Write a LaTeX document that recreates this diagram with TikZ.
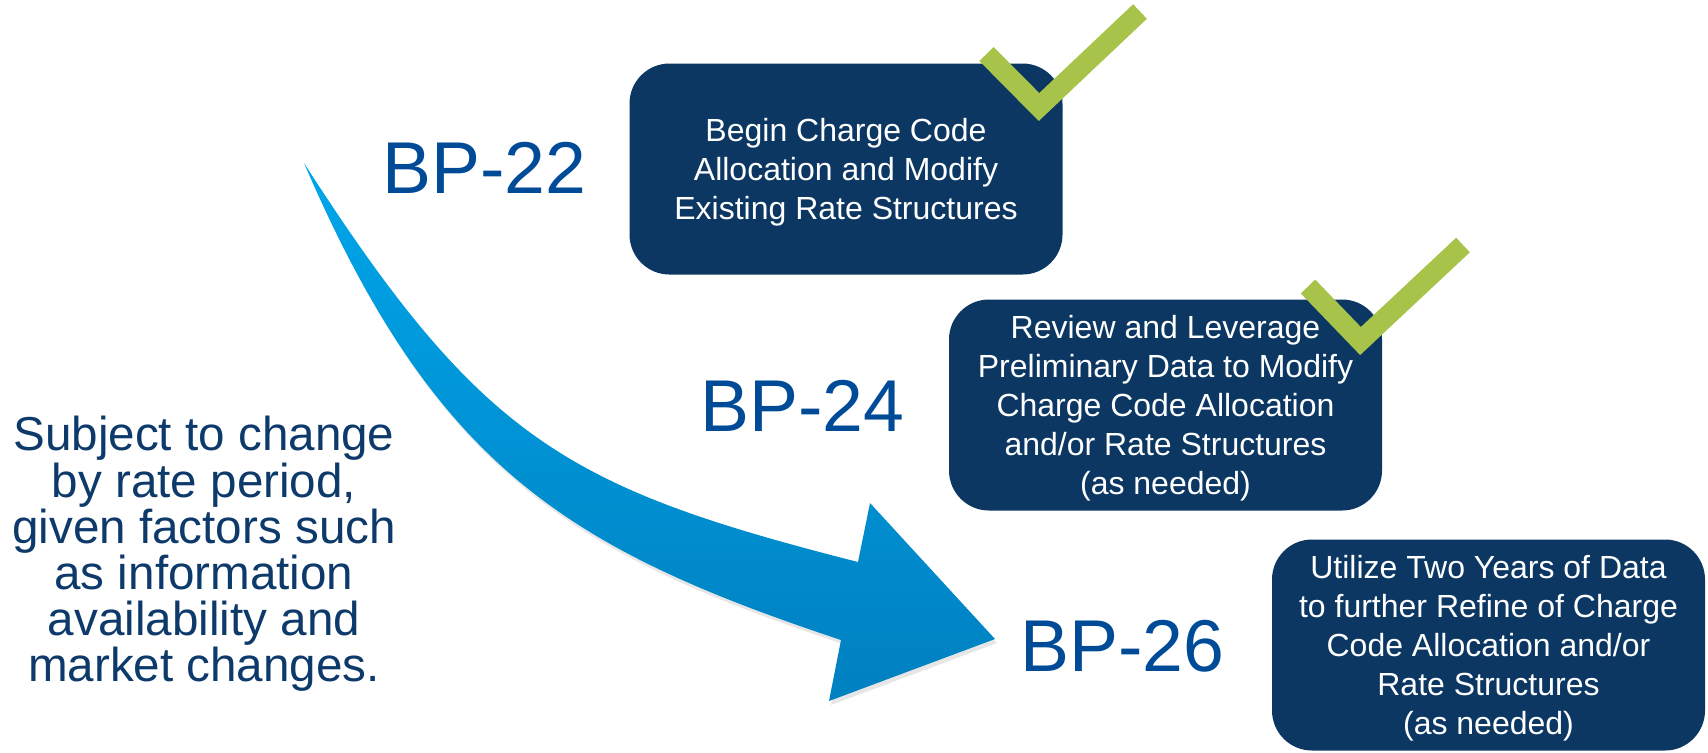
\documentclass[tikz,border=0pt]{standalone}
\usepackage{fontspec}
\setmainfont{Liberation Sans}
\usetikzlibrary{shadows}
\definecolor{boxblue}{RGB}{11,55,98}
\definecolor{bpblue}{RGB}{0,75,151}
\definecolor{noteblue}{RGB}{13,58,106}
\definecolor{checkgreen}{RGB}{167,195,74}
\definecolor{arrowtop}{RGB}{0,166,234}
\definecolor{arrowbot}{RGB}{0,128,192}
\begin{document}
\begin{tikzpicture}[x=0.5pt,y=-0.5pt,
		stepbox/.style={fill=boxblue,rounded corners=20pt,minimum width=216.5pt,minimum height=105.5pt,inner sep=0pt,text=white,align=center,font=\fontsize{16}{19.5}\selectfont,text depth=-5pt},
		bplabel/.style={anchor=base west,inner sep=0pt,text=bpblue,font=\fontsize{36.7}{44}\selectfont},
		tick/.style={draw=checkgreen,line width=10pt,miter limit=10}]
	\useasboundingbox (0,0) rectangle (1708,752);
	% big curved arrow
	\path[top color=arrowtop,bottom color=arrowbot,drop shadow={opacity=.2,shadow xshift=1pt,shadow yshift=-2pt}]
		(304,163) .. controls (482.2,440.5) and (567.3,487.9) .. (858,562)
		-- (870,503) -- (995,639) -- (829,701) -- (841,640)
		.. controls (565.8,548.4) and (434.7,466) .. (304,163) -- cycle;
	% note on the left
	\node[align=center,inner sep=0pt,text=noteblue,font=\fontsize{23.8}{23.1}\selectfont] (note) at (204,554)
		{Subject to change\\by rate period,\\given factors such\\as information\\availability and\\market changes.};
	% rate periods
	\node[bplabel] (bp22) at (382,193) {BP-22};
	\node[bplabel] (bp24) at (700,431) {BP-24};
	\node[bplabel] (bp26) at (1020,671) {BP-26};
	\node[stepbox] (box22) at (846,169) {Begin Charge Code\\Allocation and Modify\\Existing Rate Structures};
	\node[stepbox] (box24) at (1165.5,405) {Review and Leverage\\Preliminary Data to Modify\\Charge Code Allocation\\and/or Rate Structures\\(as needed)};
	\node[stepbox] (box26) at (1488.5,645) {Utilize Two Years of Data\\to further Refine of Charge\\Code Allocation and/or\\Rate Structures\\(as needed)};
	% checks
	\draw[tick] (986.5,54) -- (1039,107) -- (1140,11.5);
	\draw[tick] (1308,286.5) -- (1360.5,341) -- (1463,245);
\end{tikzpicture}
\end{document}
